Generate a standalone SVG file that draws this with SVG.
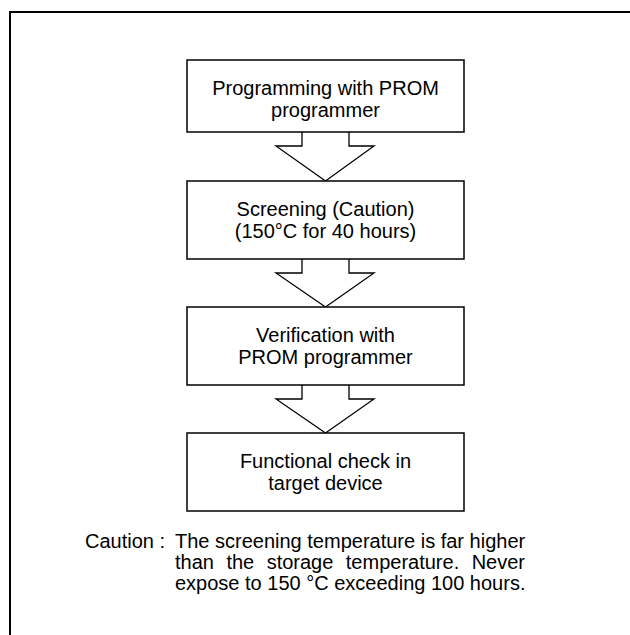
<svg xmlns="http://www.w3.org/2000/svg" width="630" height="635" viewBox="0 0 630 635">
<style>
.box{fill:#fff;stroke:#000;stroke-width:1.5}
.arr{fill:#fff;stroke:#000;stroke-width:1.3;stroke-linejoin:miter}
.t{font-family:"Liberation Sans",Arial,sans-serif;font-size:20px;fill:#000}
.c{text-anchor:middle}
</style>
<rect width="630" height="635" fill="#fff"/>
<path d="M10,635 V12 H630" fill="none" stroke="#000" stroke-width="2"/>
<g id="connectors">
<polyline class="arr" points="302,132 302,146 276,146 325.5,181 374,146 349,146 349,132"/>
<polyline class="arr" points="302,259 302,273 276,273 325.5,307 374,273 349,273 349,259"/>
<polyline class="arr" points="302,385 302,399 276,399 325.5,433 374,399 349,399 349,385"/>
</g>
<g id="node1">
<rect class="box" x="187" y="60" width="277" height="72"/>
<text class="t c" x="325.5" y="95">Programming with PROM</text>
<text class="t c" x="325.5" y="117">programmer</text>
</g>
<g id="node2">
<rect class="box" x="187" y="181" width="277" height="78"/>
<text class="t c" x="325.5" y="216">Screening (Caution)</text>
<text class="t c" x="325.5" y="238">(150°C for 40 hours)</text>
</g>
<g id="node3">
<rect class="box" x="187" y="307" width="277" height="78"/>
<text class="t c" x="325.5" y="342">Verification with</text>
<text class="t c" x="325.5" y="364">PROM programmer</text>
</g>
<g id="node4">
<rect class="box" x="187" y="433" width="277" height="78"/>
<text class="t c" x="325.5" y="468">Functional check in</text>
<text class="t c" x="325.5" y="490">target device</text>
</g>
<g id="caution">
<text class="t" x="85" y="548">Caution :</text>
<text class="t" x="175" y="548">The screening temperature is far higher</text>
<text class="t" x="175" y="569" word-spacing="6.9">than the storage temperature. Never</text>
<text class="t" x="175" y="590">expose to 150 °C exceeding 100 hours.</text>
</g>
</svg>
